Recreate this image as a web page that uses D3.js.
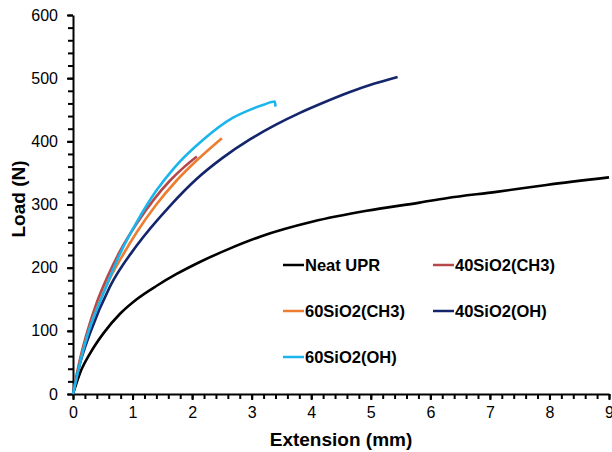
<!DOCTYPE html>
<html>
<head>
<meta charset="utf-8">
<script src="https://cdn.jsdelivr.net/npm/d3@7"></script>
<style>
  body { margin: 0; background: #fff; }
  text { font-family: 'Liberation Sans', Arial, sans-serif; }
</style>
</head>
<body>
<div class="chart"></div>
<script>
var width = 612
var height = 452

var xTicks = [0, 1, 2, 3, 4, 5, 6, 7, 8, 9]
var yTicks = [0, 100, 200, 300, 400, 500, 600]

var seriesNames = ['Neat UPR', '40SiO2(CH3)', '60SiO2(CH3)', '40SiO2(OH)', '60SiO2(OH)']
var seriesColors = ['#000000', '#b5484a', '#ed7d31', '#14256b', '#19b5ec']

// [extension mm, load N]
var neatUPR = [[0, 0], [0.117, 33], [0.285, 64], [0.51, 96], [0.79, 127], [1.07, 150], [1.4, 171], [1.74, 190], [2.13, 209],
    [2.6, 229], [3.14, 249], [4.03, 273], [4.93, 290], [5.82, 303], [6.27, 310], [7.11, 320], [7.95, 331], [9.0, 343]]
var si40CH3 = [[0, 0], [0.1, 48], [0.25, 102], [0.4, 145], [0.6, 190], [0.8, 228], [1.07, 270], [1.35, 307], [1.63, 338],
    [1.85, 358], [2.08, 376]]
var si60CH3 = [[0, 0], [0.1, 44], [0.25, 95], [0.42, 140], [0.62, 183], [0.85, 222], [1.07, 256], [1.4, 300], [1.74, 338],
    [2.08, 370], [2.5, 405]]
var si40OH = [[0, 0], [0.1, 42], [0.285, 96], [0.62, 170], [1.07, 235], [1.63, 298], [2.07, 340], [2.5, 373], [2.97, 403],
    [3.4, 426], [3.81, 445], [4.2, 461], [4.65, 478], [5.05, 491], [5.45, 502]]
var si60OH = [[0, 0], [0.1, 42], [0.25, 95], [0.51, 159], [0.79, 222], [1.07, 272], [1.4, 322], [1.7, 358], [2.18, 402],
    [2.68, 437], [3.0, 451], [3.2, 458], [3.39, 463], [3.4, 455]]
var seriesData = [neatUPR, si40CH3, si60CH3, si40OH, si60OH]

var margin = { top: 15, right: 3, bottom: 58, left: 73 }

var svg = d3.select('.chart').append('svg')
    .attr('width', width)
    .attr('height', height)

var x = d3.scaleLinear().domain([0, 9]).range([margin.left, width - margin.right])
var y = d3.scaleLinear().domain([0, 600]).range([height - margin.bottom, margin.top])

// minor ticks
svg.append('g')
    .attr('transform', 'translate(0,' + y(0) + ')')
    .call(d3.axisBottom(x).tickValues(d3.range(0, 9.01, 0.2)).tickSize(5).tickFormat(''))
    .call(function (g) { g.selectAll('line').attr('stroke-width', 2) })
    .call(function (g) { g.select('.domain').remove() })
svg.append('g')
    .attr('transform', 'translate(' + x(0) + ',0)')
    .call(d3.axisLeft(y).tickValues(d3.range(0, 601, 20)).tickSize(5).tickFormat(''))
    .call(function (g) { g.selectAll('line').attr('stroke-width', 2) })
    .call(function (g) { g.select('.domain').remove() })

// main axes
var xAxis = svg.append('g')
    .attr('transform', 'translate(0,' + y(0) + ')')
    .call(d3.axisBottom(x).tickValues(xTicks).tickSize(6).tickSizeOuter(0).tickPadding(7))
xAxis.select('.domain').attr('stroke-width', 2)
xAxis.selectAll('line').attr('stroke-width', 2)
xAxis.selectAll('text').attr('font-size', 16).attr('fill', '#000')

var yAxis = svg.append('g')
    .attr('transform', 'translate(' + x(0) + ',0)')
    .call(d3.axisLeft(y).tickValues(yTicks).tickSize(6).tickSizeOuter(0).tickPadding(9))
yAxis.select('.domain').attr('stroke-width', 2)
yAxis.selectAll('line').attr('stroke-width', 2)
yAxis.selectAll('text').attr('font-size', 16).attr('fill', '#000')

svg.append('text')
    .attr('x', (x(0) + x(9)) / 2)
    .attr('y', 446)
    .attr('text-anchor', 'middle')
    .attr('font-size', 19)
    .attr('font-weight', 'bold')
    .text('Extension (mm)')

svg.append('text')
    .attr('transform', 'translate(25,199) rotate(-90)')
    .attr('text-anchor', 'middle')
    .attr('font-size', 19)
    .attr('font-weight', 'bold')
    .text('Load (N)')

var line = d3.line()
    .x(function (d) { return x(d[0]) })
    .y(function (d) { return y(d[1]) })
    .curve(d3.curveMonotoneX)

seriesData.forEach(function (data, i) {
    svg.append('path')
        .datum(data)
        .attr('d', line)
        .attr('fill', 'none')
        .attr('stroke', seriesColors[i])
        .attr('stroke-width', 2.6)
})

// legend
var legendPos = [[283, 265], [433, 265], [283, 311], [433, 311], [283, 357]]
var legend = svg.append('g')
seriesNames.forEach(function (name, i) {
    var g = legend.append('g').attr('transform', 'translate(' + legendPos[i] + ')')
    g.append('line')
        .attr('x1', 0).attr('x2', 21)
        .attr('y1', 0).attr('y2', 0)
        .attr('stroke', seriesColors[i])
        .attr('stroke-width', 2.5)
    g.append('text')
        .attr('x', 22)
        .attr('y', 6)
        .attr('font-size', 16.5)
        .attr('font-weight', 'bold')
        .text(name)
})
</script>
</body>
</html>
